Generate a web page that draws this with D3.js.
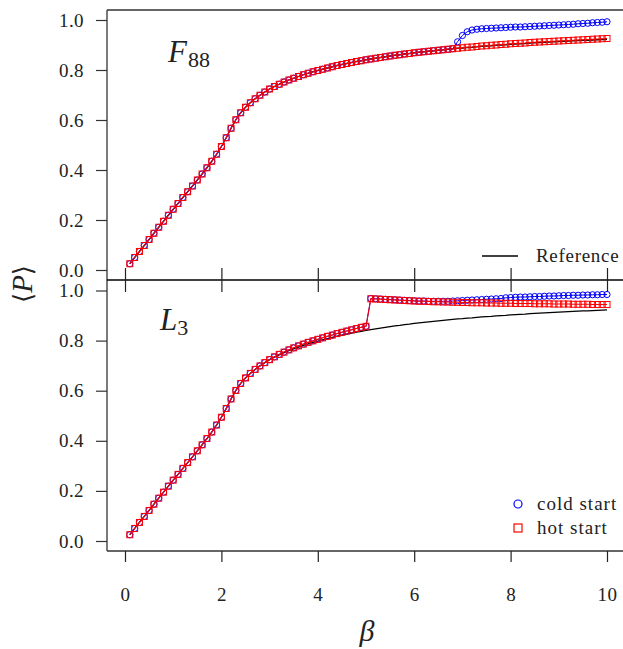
<!DOCTYPE html>
<html><head><meta charset="utf-8">
<script src="https://cdn.jsdelivr.net/npm/d3@7"></script>
<style>body{margin:0;background:#fff}svg text{font-family:"Liberation Serif","Times New Roman","DejaVu Serif",serif;fill:#222}</style>
</head><body><svg id="c" width="623" height="649"></svg>
<script>
const beta = [0.1,0.2,0.3,0.4,0.5,0.6,0.7,0.8,0.9,1.0,1.1,1.2,1.3,1.4,1.5,1.6,1.7,1.8,1.9,2.0,
2.1,2.2,2.3,2.4,2.5,2.6,2.7,2.8,2.9,3.0,3.1,3.2,3.3,3.4,3.5,3.6,3.7,3.8,3.9,4.0,
4.1,4.2,4.3,4.4,4.5,4.6,4.7,4.8,4.9,5.0,5.1,5.2,5.3,5.4,5.5,5.6,5.7,5.8,5.9,6.0,
6.1,6.2,6.3,6.4,6.5,6.6,6.7,6.8,6.9,7.0,7.1,7.2,7.3,7.4,7.5,7.6,7.7,7.8,7.9,8.0,
8.1,8.2,8.3,8.4,8.5,8.6,8.7,8.8,8.9,9.0,9.1,9.2,9.3,9.4,9.5,9.6,9.7,9.8,9.9,10.0];

const reference = [0.025,0.050,0.074,0.098,0.122,0.147,0.171,0.195,0.219,0.243,
0.266,0.290,0.313,0.336,0.360,0.384,0.409,0.435,0.463,0.494,
0.529,0.567,0.601,0.629,0.651,0.669,0.685,0.699,0.712,0.724,
0.734,0.743,0.752,0.760,0.767,0.774,0.781,0.787,0.793,0.798,
0.803,0.808,0.813,0.818,0.822,0.826,0.830,0.834,0.837,0.841,
0.844,0.847,0.850,0.853,0.856,0.859,0.861,0.864,0.866,0.869,
0.871,0.873,0.875,0.877,0.879,0.881,0.883,0.885,0.887,0.888,
0.890,0.891,0.893,0.895,0.896,0.897,0.899,0.900,0.901,0.903,
0.904,0.905,0.906,0.908,0.909,0.910,0.911,0.912,0.913,0.914,
0.915,0.916,0.917,0.918,0.919,0.919,0.920,0.921,0.922,0.923];

const f88Hot = [0.025,0.050,0.074,0.098,0.122,0.147,0.171,0.195,0.219,0.243,
0.266,0.290,0.313,0.336,0.360,0.384,0.409,0.435,0.463,0.494,
0.529,0.567,0.601,0.629,0.651,0.669,0.685,0.699,0.712,0.724,
0.734,0.743,0.752,0.760,0.767,0.774,0.781,0.787,0.793,0.798,
0.803,0.808,0.813,0.818,0.822,0.826,0.830,0.834,0.837,0.841,
0.844,0.847,0.850,0.853,0.856,0.859,0.861,0.864,0.866,0.869,
0.871,0.873,0.875,0.877,0.879,0.881,0.883,0.885,0.887,0.889,
0.891,0.892,0.894,0.896,0.897,0.899,0.900,0.902,0.903,0.905,
0.906,0.907,0.908,0.910,0.911,0.912,0.913,0.914,0.915,0.916,
0.917,0.918,0.919,0.920,0.921,0.922,0.923,0.924,0.925,0.926];

const f88Cold = [0.025,0.050,0.074,0.098,0.122,0.147,0.171,0.195,0.219,0.243,
0.266,0.290,0.313,0.336,0.360,0.384,0.409,0.435,0.463,0.494,
0.529,0.567,0.601,0.629,0.651,0.669,0.685,0.699,0.712,0.724,
0.734,0.743,0.752,0.760,0.767,0.774,0.781,0.787,0.793,0.798,
0.803,0.808,0.813,0.818,0.822,0.826,0.830,0.834,0.837,0.841,
0.844,0.847,0.850,0.853,0.856,0.859,0.861,0.864,0.866,0.869,
0.871,0.873,0.875,0.877,0.879,0.881,0.883,0.885,0.913,0.938,
0.953,0.960,0.963,0.965,0.966,0.967,0.968,0.969,0.970,0.971,
0.972,0.972,0.973,0.974,0.975,0.976,0.977,0.978,0.979,0.980,
0.981,0.982,0.983,0.985,0.986,0.987,0.989,0.990,0.991,0.993];

const l3Hot = [0.025,0.050,0.074,0.098,0.122,0.147,0.171,0.195,0.219,0.243,
0.266,0.290,0.313,0.336,0.360,0.384,0.409,0.435,0.463,0.494,
0.529,0.567,0.601,0.629,0.651,0.669,0.685,0.699,0.712,0.724,
0.735,0.745,0.754,0.763,0.771,0.779,0.786,0.793,0.799,0.805,
0.811,0.817,0.822,0.828,0.833,0.838,0.843,0.848,0.853,0.857,
0.967,0.966,0.965,0.964,0.963,0.962,0.961,0.960,0.959,0.958,
0.957,0.957,0.956,0.955,0.955,0.954,0.954,0.953,0.953,0.952,
0.952,0.951,0.951,0.951,0.950,0.950,0.950,0.949,0.949,0.949,
0.948,0.948,0.948,0.948,0.947,0.947,0.947,0.947,0.946,0.946,
0.946,0.946,0.945,0.945,0.945,0.945,0.944,0.944,0.944,0.944];

const l3Cold = [0.025,0.050,0.074,0.098,0.122,0.147,0.171,0.195,0.219,0.243,
0.266,0.290,0.313,0.336,0.360,0.384,0.409,0.435,0.463,0.494,
0.529,0.567,0.601,0.629,0.651,0.669,0.685,0.699,0.712,0.724,
0.735,0.745,0.754,0.763,0.771,0.779,0.786,0.793,0.799,0.805,
0.811,0.817,0.822,0.828,0.833,0.838,0.843,0.848,0.853,0.857,
0.968,0.967,0.966,0.965,0.964,0.963,0.962,0.961,0.960,0.959,
0.958,0.958,0.957,0.957,0.957,0.957,0.957,0.958,0.959,0.960,
0.961,0.962,0.963,0.964,0.965,0.966,0.967,0.968,0.971,0.972,
0.973,0.974,0.974,0.975,0.976,0.976,0.977,0.978,0.978,0.979,
0.980,0.980,0.981,0.981,0.982,0.982,0.983,0.983,0.984,0.984];

const xTicks = [0, 2, 4, 6, 8, 10];
const yTicks = [0, 0.2, 0.4, 0.6, 0.8, 1.0];
const yTickLabels = ["0.0", "0.2", "0.4", "0.6", "0.8", "1.0"];
const legendTop = ["Reference"];
const legendBottom = ["cold start", "hot start"];

const SERIF = "'Liberation Serif','Times New Roman','DejaVu Serif',serif";
const svg = d3.select("#c");
const x = d3.scaleLinear().domain([0, 10]).range([125, 607]);
const yTop = d3.scaleLinear().domain([0, 1]).range([270, 20]);
const yBot = d3.scaleLinear().domain([0, 1]).range([541, 290.5]);

const frame = "#333";
svg.append("line").attr("x1",107).attr("x2",107).attr("y1",10).attr("y2",551).attr("stroke",frame).attr("stroke-width",1.3);
svg.append("line").attr("x1",107).attr("x2",623).attr("y1",10).attr("y2",10).attr("stroke",frame).attr("stroke-width",1.3);
svg.append("line").attr("x1",107).attr("x2",623).attr("y1",280).attr("y2",280).attr("stroke","#000").attr("stroke-width",1.3);
svg.append("line").attr("x1",107).attr("x2",623).attr("y1",551).attr("y2",551).attr("stroke",frame).attr("stroke-width",1.3);

function yAxis(scale){
  const g = svg.append("g").attr("transform","translate(107,0)")
    .call(d3.axisLeft(scale).tickValues(yTicks).tickSize(11).tickPadding(12)
      .tickFormat((d,i)=>yTickLabels[i]));
  g.attr("font-family", SERIF);
  g.select(".domain").remove();
  g.selectAll(".tick line").attr("stroke",frame).attr("stroke-width",1.2);
  g.selectAll(".tick text").attr("font-size",19).attr("fill","#222").attr("letter-spacing","0.4px");
}
yAxis(yTop); yAxis(yBot);

const gm1 = svg.append("g").attr("transform","translate(0,280)")
  .call(d3.axisBottom(x).tickValues(xTicks).tickSize(12).tickFormat(""));
const gm2 = svg.append("g").attr("transform","translate(0,280)")
  .call(d3.axisTop(x).tickValues(xTicks).tickSize(12).tickFormat(""));
[gm1,gm2].forEach(g=>{g.select(".domain").remove();g.selectAll(".tick line").attr("stroke","#222").attr("stroke-width",1.2);});

const gb = svg.append("g").attr("transform","translate(0,551)")
  .call(d3.axisBottom(x).tickValues(xTicks).tickSize(11).tickPadding(26).tickFormat(d3.format("d")));
gb.attr("font-family", SERIF);
gb.select(".domain").remove();
gb.selectAll(".tick line").attr("stroke","#222").attr("stroke-width",1.2);
gb.selectAll(".tick text").attr("font-size",19).attr("fill","#222").attr("letter-spacing","0.4px");

function panel(yS, cold, hot){
  const ref = beta.map((b,i)=>[b,reference[i]]);
  const line = d3.line().x(d=>x(d[0])).y(d=>yS(d[1]));
  svg.append("path").attr("d",line(ref)).attr("fill","none").attr("stroke","#000").attr("stroke-width",1.3);
  const c = beta.map((b,i)=>[b,cold[i]]);
  const h = beta.map((b,i)=>[b,hot[i]]);
  svg.append("path").attr("d",line(c)).attr("fill","none").attr("stroke","#0000ff").attr("stroke-width",1);
  svg.append("g").selectAll("circle").data(c).join("circle")
    .attr("cx",d=>x(d[0])).attr("cy",d=>yS(d[1])).attr("r",3.1)
    .attr("fill","none").attr("stroke","#0000ff").attr("stroke-width",1);
  svg.append("path").attr("d",line(h)).attr("fill","none").attr("stroke","#ff0000").attr("stroke-width",1.1);
  svg.append("g").selectAll("rect").data(h).join("rect")
    .attr("x",d=>x(d[0])-3).attr("y",d=>yS(d[1])-3).attr("width",6).attr("height",6)
    .attr("fill","none").attr("stroke","#ff0000").attr("stroke-width",1);
}
panel(yTop, f88Cold, f88Hot);
panel(yBot, l3Cold, l3Hot);

const t1 = svg.append("text").attr("x",168).attr("y",62).attr("font-size",31).attr("font-family",SERIF);
t1.append("tspan").attr("font-style","italic").text("F");
t1.append("tspan").attr("font-size",22).attr("dx",1).attr("dy",5).text("88");
const t2 = svg.append("text").attr("x",160).attr("y",330).attr("font-size",31).attr("font-family",SERIF);
t2.append("tspan").attr("font-style","italic").text("L");
t2.append("tspan").attr("font-size",22).attr("dy",5).text("3");

svg.append("line").attr("x1",482).attr("x2",518).attr("y1",256).attr("y2",256).attr("stroke","#000").attr("stroke-width",1.3);
svg.append("text").attr("x",536).attr("y",262).attr("font-size",19).attr("font-family",SERIF).attr("letter-spacing","0.7px").text(legendTop[0]);
svg.append("circle").attr("cx",518).attr("cy",504).attr("r",4).attr("fill","none").attr("stroke","#0000ff").attr("stroke-width",1.2);
svg.append("text").attr("x",537).attr("y",510).attr("font-size",19).attr("font-family",SERIF).attr("letter-spacing","1px").text(legendBottom[0]);
svg.append("rect").attr("x",514).attr("y",524).attr("width",8).attr("height",8).attr("fill","none").attr("stroke","#ff0000").attr("stroke-width",1.2);
svg.append("text").attr("x",537).attr("y",534).attr("font-size",19).attr("font-family",SERIF).attr("letter-spacing","1px").text(legendBottom[1]);

svg.append("text").attr("x",367).attr("y",641).attr("text-anchor","middle").attr("font-size",30).attr("font-family",SERIF).attr("font-style","italic").text("β");
const yl = svg.append("text").attr("transform","translate(32,284) rotate(-90)").attr("text-anchor","middle").attr("font-size",29).attr("font-family",SERIF);
yl.append("tspan").attr("font-family","DejaVu Serif").attr("font-size",26).text("⟨");
yl.append("tspan").attr("font-style","italic").text("P");
yl.append("tspan").attr("font-family","DejaVu Serif").attr("font-size",26).text("⟩");
</script></body></html>
